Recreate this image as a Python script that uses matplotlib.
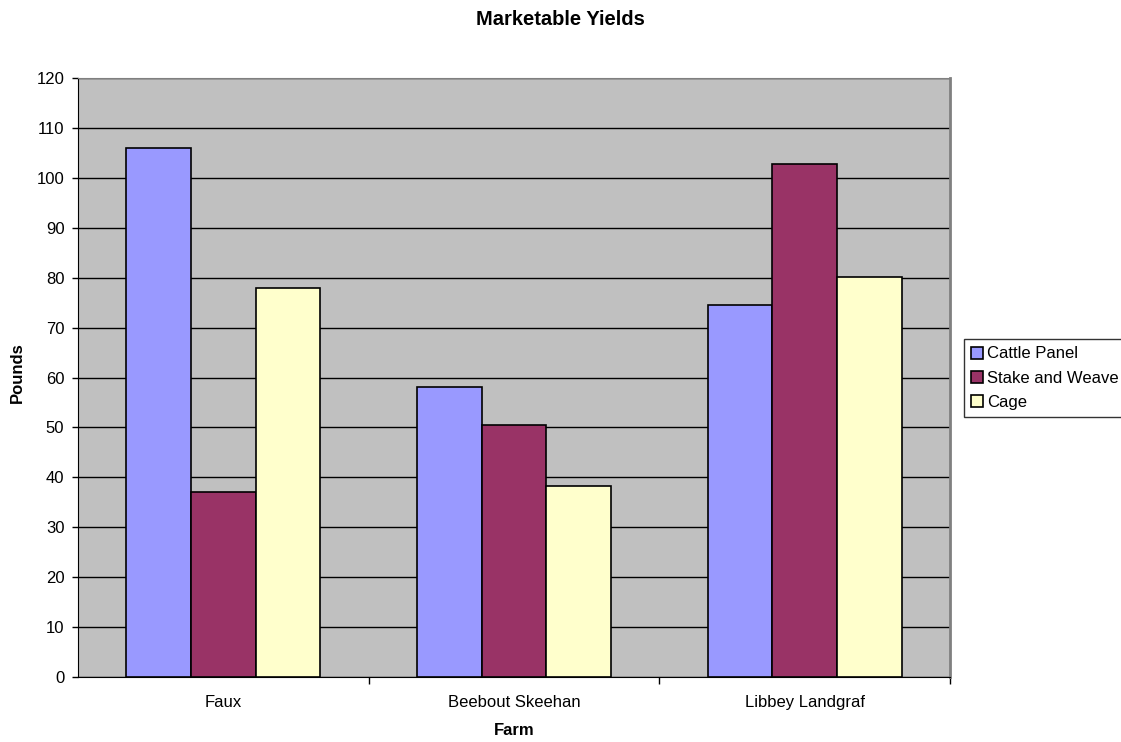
import numpy as np
import matplotlib.pyplot as plt

plt.rcParams['font.family'] = ['Liberation Sans', 'DejaVu Sans']

farms = ['Faux', 'Beebout Skeehan', 'Libbey Landgraf']
series = ['Cattle Panel', 'Stake and Weave', 'Cage']
cattle_panel = [106, 58, 74.5]
stake_weave = [37, 50.5, 102.7]
cage = [78, 38.3, 80.2]
colors = ['#9999FF', '#993366', '#FFFFCC']

fig = plt.figure(figsize=(11.21, 7.42), dpi=100)
ax = fig.add_axes([78/1121, 1-677/742, 872/1121, 599/742])
ax.set_facecolor('#C0C0C0')

x = np.arange(len(farms))
w = 1/4.5
for i, (vals, name) in enumerate(zip([cattle_panel, stake_weave, cage], series)):
    ax.bar(x + (i-1)*w, vals, w, color=colors[i], edgecolor='black', linewidth=1.2, label=name, zorder=3)

ax.set_xlim(-0.5, 2.5)
ax.set_ylim(0, 120)
ax.set_yticks(range(0, 121, 10))
ax.yaxis.grid(True, color='black', linewidth=1, zorder=1)
ax.set_axisbelow(True)

ax.set_xticks(x)
ax.set_xticklabels(farms)
ax.tick_params(axis='x', length=0, pad=13, labelsize=12)
ax.set_xticks([0.5, 1.5, 2.5], minor=True)
ax.tick_params(axis='x', which='minor', length=5, width=1, direction='out')
ax.tick_params(axis='y', length=4.3, width=1, direction='out', labelsize=12, pad=5.5)

ax.spines['left'].set_color('black')
ax.spines['bottom'].set_color('black')
ax.spines['top'].set_color('#808080')
ax.spines['right'].set_color('#808080')
ax.spines['right'].set_linewidth(2)

fig.suptitle('Marketable Yields', x=560.5/1121, y=1-10/742, va='top', fontsize=14.5, fontweight='bold')
ax.set_xlabel('Farm', fontsize=12, fontweight='bold')
ax.xaxis.set_label_coords(0.5, (677-723)/599)
ax.set_ylabel('Pounds', fontsize=12, fontweight='bold')
ax.yaxis.set_label_coords((25-78)/872, 0.508)

leg = ax.legend(loc='upper left', bbox_to_anchor=(964/1121, 1-339/742), bbox_transform=fig.transFigure,
                frameon=True, fancybox=False, edgecolor='black', fontsize=12,
                handlelength=0.7, handleheight=0.7, handletextpad=0.25, borderpad=0.45,
                labelspacing=0.55, borderaxespad=0)
leg.get_frame().set_linewidth(1)

fig.savefig('out.png', dpi=100)
